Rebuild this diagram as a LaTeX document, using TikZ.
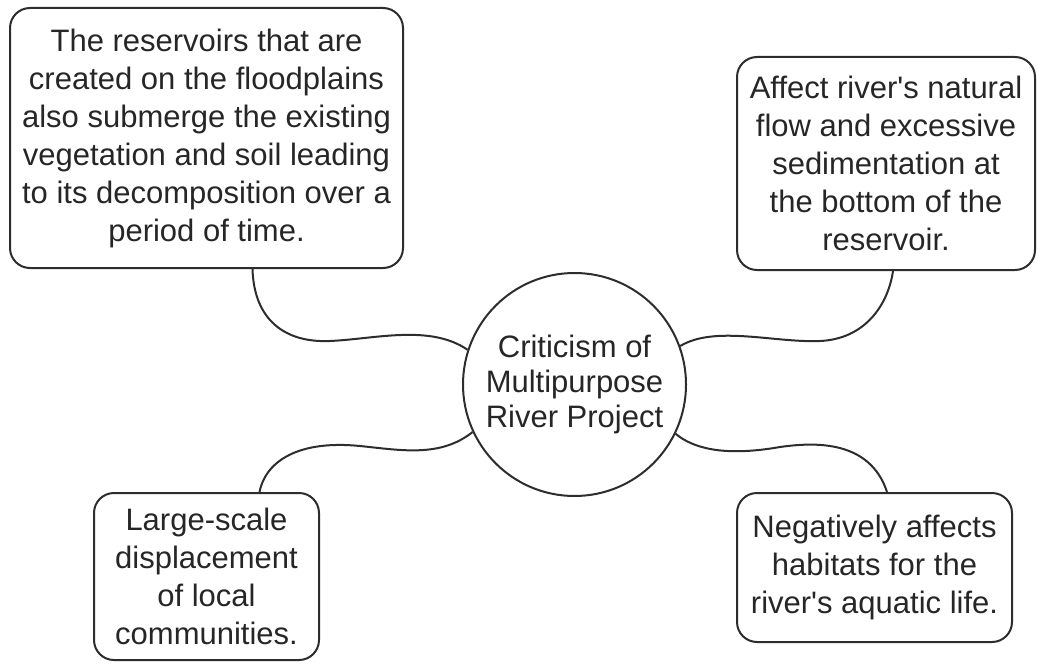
\documentclass[tikz,border=0pt]{standalone}
\usepackage{fontspec}
\setmainfont{Liberation Sans}
\usetikzlibrary{calc}
\definecolor{inkgrey}{RGB}{38,38,38}
\definecolor{linegrey}{RGB}{45,45,45}

\begin{document}
\begin{tikzpicture}[x=0.5pt, y=-0.5pt,
    card/.style={rectangle, draw=linegrey, line width=1pt, rounded corners=10pt,
        inner sep=0pt, align=center, text=inkgrey,
        font=\fontsize{15.5}{19}\selectfont},
    hub/.style={circle, draw=linegrey, line width=1pt, minimum size=111.5pt,
        inner sep=0pt, align=center, text=inkgrey,
        font=\fontsize{15.5}{17.3}\selectfont},
    link/.style={draw=linegrey, line width=1pt}
]
    \useasboundingbox (0,0) rectangle (1037,663);

    % === Centre ===
    \node[hub] (criticism) at (574.5,384.5) {Criticism of\\Multipurpose\\River Project};

    % === Four effects ===
    \node[card, minimum width=196.5pt, minimum height=130pt] (reservoirs) at (206.5,138)
        {The reservoirs that are\\created on the floodplains\\also submerge the existing\\vegetation and soil leading\\to its decomposition over a\\period of time.};
    \node[card, minimum width=149pt, minimum height=106.5pt] (flow) at (886,163.5)
        {Affect river\textquotesingle s natural\\flow and excessive\\sedimentation at\\the bottom of the\\reservoir.};
    \node[card, minimum width=112.5pt, minimum height=83.5pt] (displace) at (206.5,576.5)
        {Large-scale\\displacement\\of local\\communities.};
    \node[card, minimum width=137.5pt, minimum height=74.5pt] (habitat) at (874.5,567.5)
        {Negatively affects\\habitats for the\\river\textquotesingle s aquatic life.};

    % Wavy links
    \draw[link] ($(reservoirs.south)+(46,0)$) .. controls (254,320) and (285,343) .. (330,341)
        .. controls (375,339) and (430,324) .. (criticism.162);
    \draw[link] (criticism.20) .. controls (715,325) and (775,343) .. (820,341)
        .. controls (865,339) and (888,305) .. ($(flow.south)+(7,0)$);
    \draw[link] ($(displace.north)+(53,0)$) .. controls (266,460) and (300,440) .. (360,446)
        .. controls (400,450) and (440,458) .. (criticism.205);
    \draw[link] (criticism.334) .. controls (700,454) and (740,454) .. (780,447)
        .. controls (815,442) and (870,440) .. ($(habitat.north)+(12.5,0)$);
\end{tikzpicture}
\end{document}
